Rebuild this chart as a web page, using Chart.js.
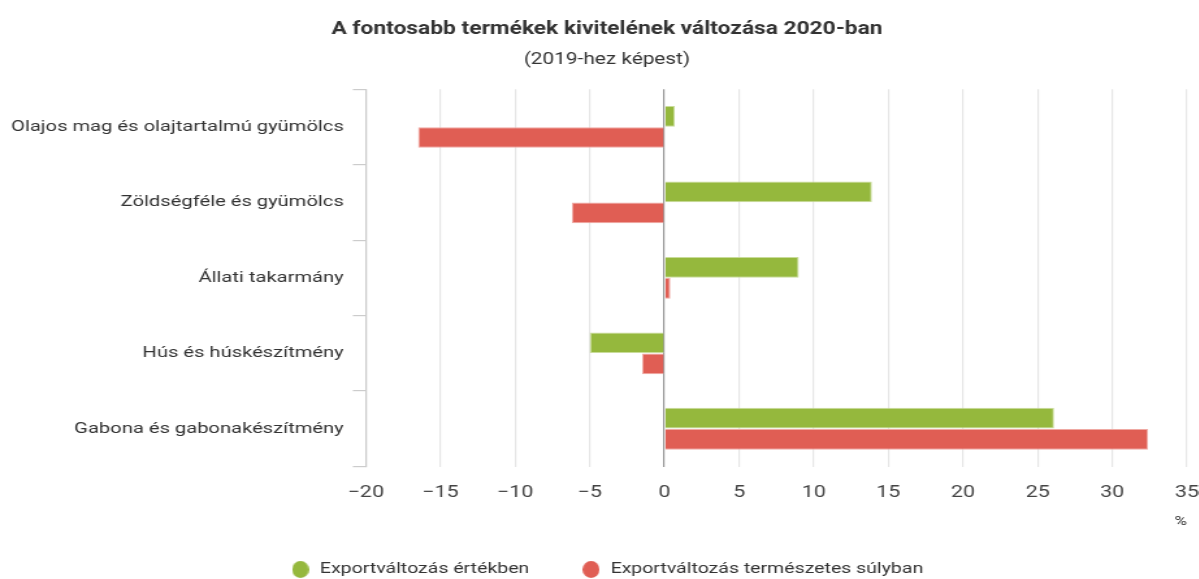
<!DOCTYPE html>
<html>
<head>
<meta charset="utf-8">
<script src="https://cdn.jsdelivr.net/npm/chart.js@4/dist/chart.umd.min.js"></script>
<style>
  html, body { margin: 0; padding: 0; background: #fff; overflow: hidden; }
  /* the reference is horizontally stretched, so draw narrower and stretch */
  #wrap {
    width: 922.3px; height: 579px; position: relative;
    transform: scaleX(1.3); transform-origin: left top;
  }
</style>
</head>
<body>
<div id="wrap"><canvas id="myChart"></canvas></div>
<script>
// Categories and series (percent change vs 2019)
const categories = [
  'Olajos mag és olajtartalmú gyümölcs',
  'Zöldségféle és gyümölcs',
  'Állati takarmány',
  'Hús és húskészítmény',
  'Gabona és gabonakészítmény'
];
const valueChange = [0.7, 13.9, 9.0, -5.0, 26.1];
const weightChange = [-16.5, -6.2, 0.4, -1.5, 32.4];
const seriesNames = ['Exportváltozás értékben', 'Exportváltozás természetes súlyban'];

const GREEN = '#95b83d';
const RED = '#e05e54';
const FONT = "Roboto, 'Noto Sans', sans-serif";

// legend markers: narrow ellipses so they come out round after the stretch
function makeDot(color) {
  const c = document.createElement('canvas');
  c.width = 13;
  c.height = 17;
  const g = c.getContext('2d');
  g.fillStyle = color;
  g.beginPath();
  g.ellipse(6.5, 8.5, 6.5, 8.5, 0, 0, Math.PI * 2);
  g.fill();
  return c;
}

const ctx = document.getElementById('myChart').getContext('2d');
new Chart(ctx, {
  type: 'bar',
  data: {
    labels: categories,
    datasets: [
      {
        label: seriesNames[0],
        data: valueChange,
        backgroundColor: GREEN,
        borderColor: '#c9dc9a',
        borderWidth: 1,
        categoryPercentage: 0.56,
        barPercentage: 0.98,
        pointStyle: makeDot(GREEN)
      },
      {
        label: seriesNames[1],
        data: weightChange,
        backgroundColor: RED,
        borderColor: '#efa9a3',
        borderWidth: 1,
        categoryPercentage: 0.56,
        barPercentage: 0.98,
        pointStyle: makeDot(RED)
      }
    ]
  },
  options: {
    indexAxis: 'y',
    responsive: true,
    maintainAspectRatio: false,
    animation: false,
    // negative right padding only widens the title/legend band, the plot keeps its own
    layout: { padding: { left: 1.5, right: -10, top: 0, bottom: -8 } },
    plugins: {
      title: {
        display: true,
        text: 'A fontosabb termékek kivitelének változása 2020-ban',
        color: '#333',
        font: { family: FONT, size: 17.5, weight: 'bold' },
        padding: { top: 19, bottom: 10 }
      },
      subtitle: {
        display: true,
        text: '(2019-hez képest)',
        color: '#333',
        font: { family: FONT, size: 16 },
        padding: { bottom: 20 }
      },
      legend: {
        position: 'bottom',
        labels: {
          usePointStyle: true,
          boxWidth: 16,
          boxHeight: 16,
          padding: 40,
          color: '#333',
          font: { family: FONT, size: 15 }
        }
      },
      tooltip: { enabled: false }
    },
    scales: {
      x: {
        min: -20,
        max: 35,
        ticks: {
          stepSize: 5,
          color: '#444',
          padding: 0,
          font: { family: FONT, size: 16.5, lineHeight: 1 },
          callback: (v) => String(v).replace('-', '\u2212')
        },
        grid: {
          color: (c) => (c.tick && c.tick.value === 0 ? '#999999' : '#e6e6e6'),
          lineWidth: 1.2,
          drawTicks: true,
          tickLength: 18,
          tickColor: 'rgba(0,0,0,0)'
        },
        border: { display: false },
        title: {
          display: true,
          text: '%',
          align: 'end',
          color: '#333',
          font: { family: FONT, size: 13, lineHeight: 1 },
          padding: { top: 14, bottom: -6 }
        }
      },
      y: {
        ticks: {
          color: '#333',
          padding: 7,
          font: { family: FONT, size: 15.5 }
        },
        grid: {
          offset: true,
          drawOnChartArea: false,
          drawTicks: true,
          tickLength: 10,
          color: '#cccccc',
          lineWidth: 1.2
        },
        border: { display: true, color: '#cccccc', width: 1.2 }
      }
    }
  }
});
</script>
</body>
</html>
